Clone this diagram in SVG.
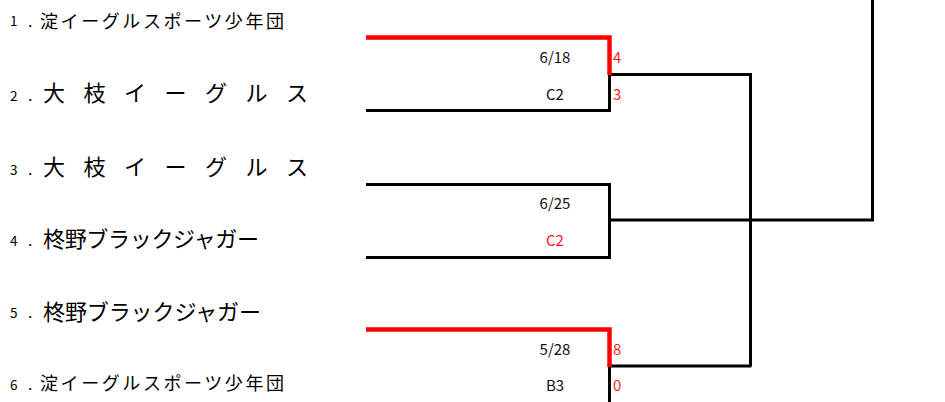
<svg xmlns="http://www.w3.org/2000/svg" width="945" height="402" viewBox="0 0 945 402">
<style>
text { font-family: "Noto Sans CJK JP", "Liberation Sans", sans-serif; fill: #000; }
.num { font-size: 13.5px; }
.small { font-size: 18px; }
.big { font-size: 22px; }
.info { font-size: 15px; text-anchor: middle; fill: #111; }
.score { font-size: 15px; fill: #ff1a1a; }
.red { fill: #ff1a1a; }
.lb { fill: none; stroke: #000; stroke-width: 3; }
.lr { fill: none; stroke: #ff0000; stroke-width: 4.5; }
</style>
<rect width="945" height="402" fill="#fff"/>
<g id="connectors">
  <path class="lb" d="M609.5,74.5 V110.5 H366"/>
  <path class="lb" d="M609.5,74.5 H750.5 V366"/>
  <path class="lb" d="M366,184.5 H609.5 V257.5 H366"/>
  <path class="lb" d="M609.5,220 H872.5 V0"/>
  <path class="lb" d="M609.5,366 H751.5"/>
  <path class="lb" d="M609.5,366 V402"/>
  <path class="lr" d="M366,37.5 H609.5 V75"/>
  <path class="lr" d="M366,329.5 H609.5 V367"/>
</g>
<g id="team1">
  <text><tspan class="num" x="10" y="26">1</tspan><tspan class="num" x="27" y="27">．</tspan><tspan class="small" x="40" y="28" textLength="244" lengthAdjust="spacing">淀イーグルスポーツ少年団</tspan></text>
</g>
<g id="team2">
  <text><tspan class="num" x="10" y="101">2</tspan><tspan class="num" x="27" y="101">．</tspan><tspan class="big" x="43" y="101" textLength="265" lengthAdjust="spacing">大 枝 イ ー グ ル ス</tspan></text>
</g>
<g id="team3">
  <text><tspan class="num" x="10" y="175">3</tspan><tspan class="num" x="27" y="175">．</tspan><tspan class="big" x="43" y="175" textLength="265" lengthAdjust="spacing">大 枝 イ ー グ ル ス</tspan></text>
</g>
<g id="team4">
  <text><tspan class="num" x="10" y="246">4</tspan><tspan class="num" x="27" y="246">．</tspan><tspan class="big" x="43" y="247" textLength="216" lengthAdjust="spacing">柊野ブラックジャガー</tspan></text>
</g>
<g id="team5">
  <text><tspan class="num" x="10" y="318">5</tspan><tspan class="num" x="27" y="318">．</tspan><tspan class="big" x="43" y="320" textLength="218" lengthAdjust="spacing">柊野ブラックジャガー</tspan></text>
</g>
<g id="team6">
  <text><tspan class="num" x="10" y="390">6</tspan><tspan class="num" x="27" y="390">．</tspan><tspan class="small" x="40" y="390" textLength="244" lengthAdjust="spacing">淀イーグルスポーツ少年団</tspan></text>
</g>
<g id="match1">
  <text class="info" x="555" y="63">6/18</text>
  <text class="info" x="555" y="100">C2</text>
  <text class="score" x="613" y="63">4</text>
  <text class="score" x="613" y="100">3</text>
</g>
<g id="match2">
  <text class="info" x="555" y="209">6/25</text>
  <text class="info red" x="555" y="246">C2</text>
</g>
<g id="match3">
  <text class="info" x="555" y="355">5/28</text>
  <text class="info" x="555" y="391">B3</text>
  <text class="score" x="613" y="355">8</text>
  <text class="score" x="613" y="391">0</text>
</g>
</svg>
